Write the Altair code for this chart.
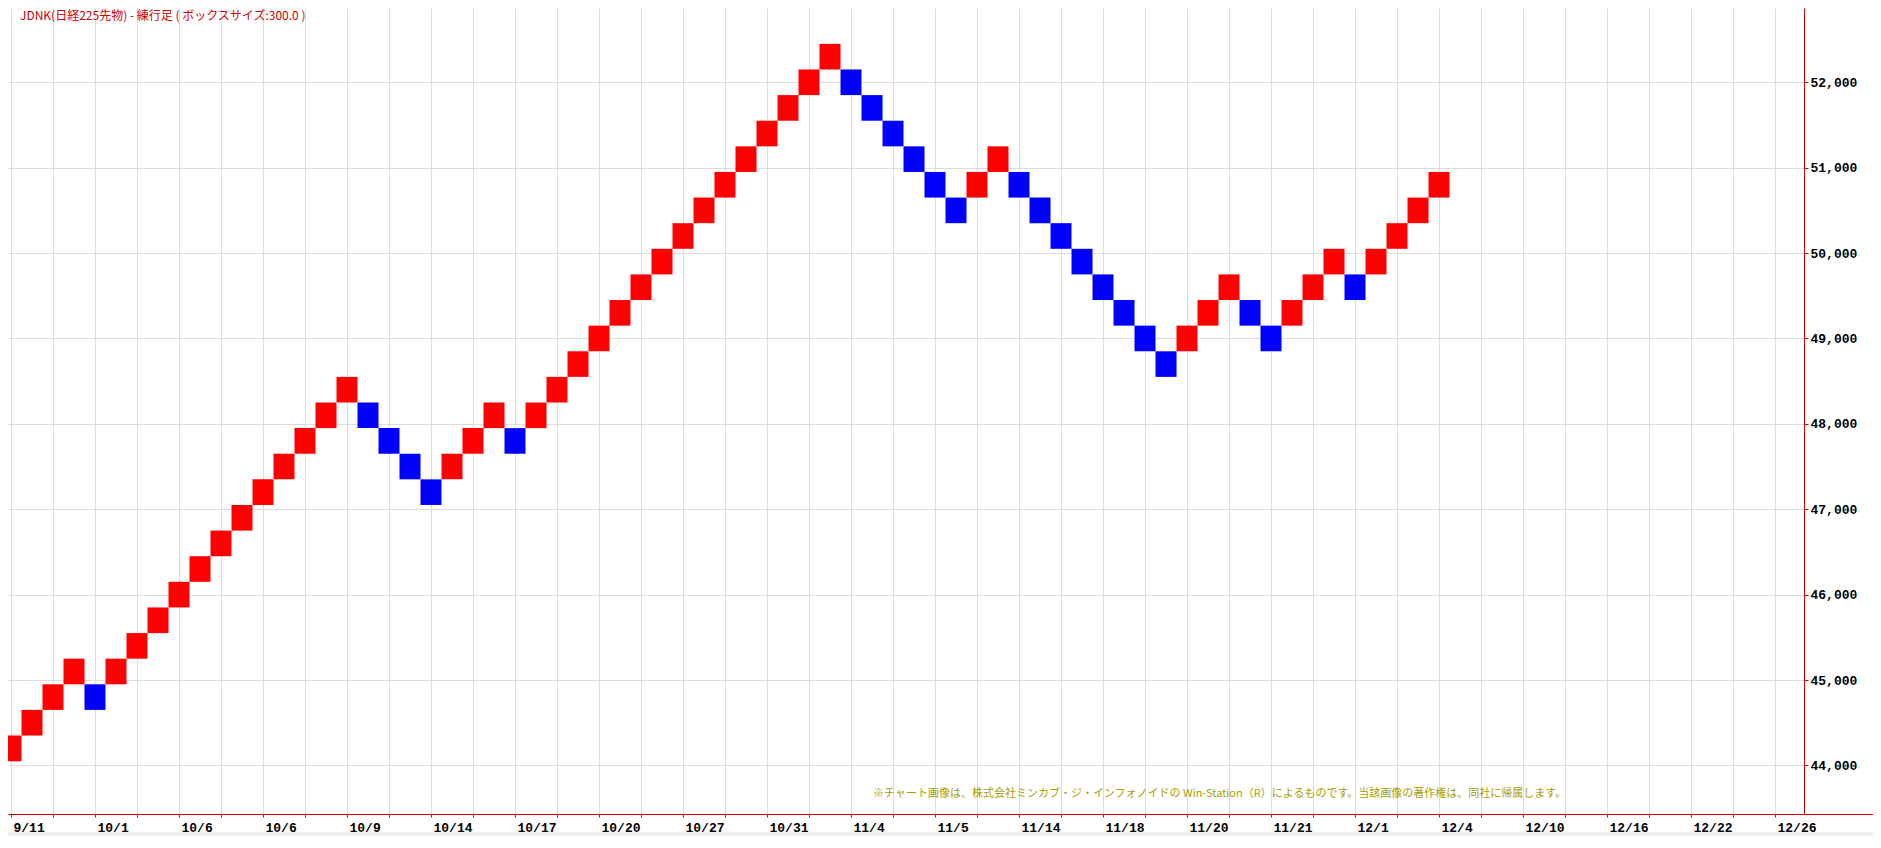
import altair as alt
import pandas as pd

# Renko bricks (box size 300): bottom price of each brick, in drawing order
brick_low = [
    44050, 44350, 44650, 44950, 44650, 44950, 45250, 45550, 45850, 46150,
    46450, 46750, 47050, 47350, 47650, 47950, 48250, 47950, 47650, 47350,
    47050, 47350, 47650, 47950, 47650, 47950, 48250, 48550, 48850, 49150,
    49450, 49750, 50050, 50350, 50650, 50950, 51250, 51550, 51850, 52150,
    51850, 51550, 51250, 50950, 50650, 50350, 50650, 50950, 50650, 50350,
    50050, 49750, 49450, 49150, 48850, 48550, 48850, 49150, 49450, 49150,
    48850, 49150, 49450, 49750, 49450, 49750, 50050, 50350, 50650,
]
box_size = 300

# date labels, one every 4 bricks starting at brick 0
x_labels = ["9/11", "10/1", "10/6", "10/6", "10/9", "10/14", "10/17", "10/20",
            "10/27", "10/31", "11/4", "11/5", "11/14", "11/18", "11/20", "11/21",
            "12/1", "12/4", "12/10", "12/16", "12/22", "12/26"]
y_ticks = [44000, 45000, 46000, 47000, 48000, 49000, 50000, 51000, 52000]

title_text = "JDNK(日経225先物) - 練行足 ( ボックスサイズ:300.0 )"
credit_text = "※チャート画像は、株式会社ミンカブ・ジ・インフォノイドの Win-Station（R）によるものです。当該画像の著作権は、同社に帰属します。"

dirs = []
for i, v in enumerate(brick_low):
    if i == 0 or v > brick_low[i - 1]:
        dirs.append("up")
    else:
        dirs.append("down")

df = pd.DataFrame({
    "x0": list(range(len(brick_low))),
    "x1": [i + 1 for i in range(len(brick_low))],
    "low": brick_low,
    "high": [v + box_size for v in brick_low],
    "dir": dirs,
})

W, H = 1796, 806
RED = "#c80000"

tick_vals = [0.5 + 2 * k for k in range(43)]
label_pairs = [(0.5 + 4 * i, lab) for i, lab in enumerate(x_labels)]
label_expr = "".join(f"datum.value == {v} ? '{lab}' : " for v, lab in label_pairs) + "''"

bricks = alt.Chart(df).mark_rect(clip=True).encode(
    x=alt.X("x0:Q",
            scale=alt.Scale(domain=[0.357, 85.88], nice=False, zero=False),
            axis=alt.Axis(values=tick_vals, labelExpr=label_expr, grid=True,
                          gridColor="#dcdcdc", gridWidth=1,
                          domainColor=RED, domainWidth=1,
                          tickColor=RED, tickSize=3,
                          labelAlign="left", labelOffset=2, labelBaseline="top",
                          labelPadding=4, labelFont="Liberation Mono",
                          labelFontWeight="bold", labelFontSize=13,
                          labelColor="#000000", labelFlush=False,
                          labelOverlap=False, labelBound=False, title=None)),
    x2="x1:Q",
    y=alt.Y("low:Q",
            scale=alt.Scale(domain=[43431, 52870], nice=False, zero=False),
            axis=alt.Axis(orient="right", values=y_ticks, format=",d", grid=True,
                          gridColor="#dcdcdc", gridWidth=1,
                          domainColor=RED, domainWidth=1,
                          tickColor=RED, tickSize=4, labelPadding=2,
                          labelFont="Liberation Mono", labelFontWeight="bold",
                          labelFontSize=13, labelColor="#000000",
                          labelFlush=False, labelOverlap=False, title=None)),
    y2="high:Q",
    color=alt.Color("dir:N",
                    scale=alt.Scale(domain=["up", "down"], range=["#ff0000", "#0000ff"]),
                    legend=None),
)

one = pd.DataFrame({"t": [title_text], "c": [credit_text]})

title = alt.Chart(one).mark_text(
    align="left", baseline="top", font="Noto Sans CJK JP", fontSize=12,
    color="#d00000",
).encode(x=alt.value(12), y=alt.value(3), text="t:N")

credit = alt.Chart(one).mark_text(
    align="left", baseline="middle", font="Noto Sans CJK JP", fontSize=11,
    color="#a89e00",
).encode(x=alt.value(865), y=alt.value(786), text="c:N")

axis_ext = alt.Chart(one).mark_rule(color=RED, strokeWidth=1).encode(
    x=alt.value(W), x2=alt.value(1865), y=alt.value(H + 0.5)
)

band = alt.Chart(one).mark_rect(color="#f0f0f0").encode(
    x=alt.value(0), x2=alt.value(1865), y=alt.value(824), y2=alt.value(840)
)

chart = alt.layer(band, bricks, axis_ext, title, credit).properties(
    width=W, height=H,
    autosize=alt.AutoSizeParams(type="none"),
    padding={"left": 0, "top": 0, "right": 69, "bottom": 22},
    background="white",
).configure_view(stroke=None)

chart.save("out.html", embed_options={"renderer": "svg", "actions": False})
